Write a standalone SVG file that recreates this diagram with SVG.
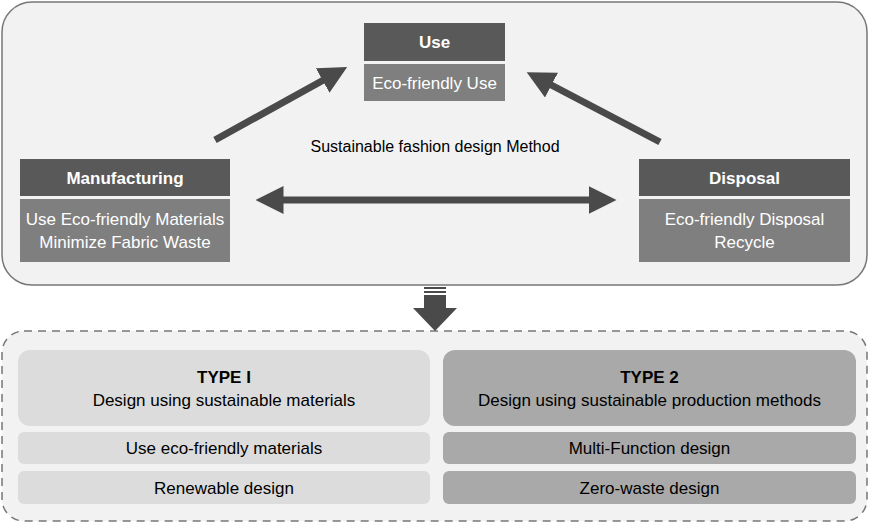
<svg xmlns="http://www.w3.org/2000/svg" width="870" height="523" viewBox="0 0 870 523">
<style>
text{font-family:"Liberation Sans",Arial,sans-serif;font-size:17px;text-anchor:middle}
.h{fill:#595959}.b{fill:#7f7f7f}.w{fill:#fff}.bold{font-weight:bold}
.l1{fill:#dcdcdc}.l2{fill:#a9a9a9}
</style>
<defs>
<marker id="ah" markerWidth="4" markerHeight="4" refX="2.5" refY="2" orient="auto-start-reverse" markerUnits="strokeWidth"><path d="M0,0 L4,2 L0,4 z" fill="#4a4a4a"/></marker>
</defs>
<rect x="2" y="2" width="865" height="283" rx="30" fill="#f2f2f2" stroke="#777" stroke-width="1.5"/>
<rect x="2" y="331" width="865" height="190" rx="22" fill="#f2f2f2" stroke="#777" stroke-width="1.5" stroke-dasharray="8,6"/>
<g id="connectors" stroke="#4a4a4a" stroke-width="7" fill="none">
<line x1="215" y1="140" x2="338" y2="72" marker-end="url(#ah)"/>
<line x1="660" y1="142" x2="536" y2="77" marker-end="url(#ah)"/>
<line x1="266" y1="200" x2="606" y2="200" marker-start="url(#ah)" marker-end="url(#ah)"/>
<g stroke="none" fill="#4a4a4a">
<rect x="424" y="287" width="22" height="2"/><rect x="424" y="291" width="22" height="2"/>
<path d="M424,295 H446 V308 H457 L435,331 L413,308 H424 Z"/>
</g>
</g>
<text x="435" y="152" style="font-size:16px">Sustainable fashion design Method</text>
<g id="use">
<rect class="h" x="364" y="23" width="141" height="38"/>
<rect class="b" x="364" y="64" width="141" height="37"/>
<text class="w bold" x="434.5" y="48">Use</text>
<text class="w" x="434.5" y="89">Eco-friendly Use</text>
</g>
<g id="manufacturing">
<rect class="h" x="20" y="159" width="210" height="37"/>
<rect class="b" x="20" y="199" width="210" height="63"/>
<text class="w bold" x="125" y="184">Manufacturing</text>
<text class="w" x="125" y="225">Use Eco-friendly Materials</text>
<text class="w" x="125" y="248">Minimize Fabric Waste</text>
</g>
<g id="disposal">
<rect class="h" x="639" y="159" width="211" height="37"/>
<rect class="b" x="639" y="199" width="211" height="63"/>
<text class="w bold" x="744.5" y="184">Disposal</text>
<text class="w" x="744.5" y="225">Eco-friendly Disposal</text>
<text class="w" x="744.5" y="248">Recycle</text>
</g>
<g id="type1">
<rect class="l1" x="18" y="350" width="412" height="76" rx="12"/>
<text class="bold" x="224" y="383">TYPE I</text>
<text x="224" y="406">Design using sustainable materials</text>
</g>
<g id="t1a"><rect class="l1" x="18" y="432" width="412" height="32" rx="6"/><text x="224" y="454">Use eco-friendly materials</text></g>
<g id="t1b"><rect class="l1" x="18" y="471" width="412" height="33" rx="6"/><text x="224" y="494">Renewable design</text></g>
<g id="type2">
<rect class="l2" x="443" y="350" width="413" height="76" rx="12"/>
<text class="bold" x="649.5" y="383">TYPE 2</text>
<text x="649.5" y="406">Design using sustainable production methods</text>
</g>
<g id="t2a"><rect class="l2" x="443" y="432" width="413" height="32" rx="6"/><text x="649.5" y="454">Multi-Function design</text></g>
<g id="t2b"><rect class="l2" x="443" y="471" width="413" height="33" rx="6"/><text x="649.5" y="494">Zero-waste design</text></g>
</svg>
